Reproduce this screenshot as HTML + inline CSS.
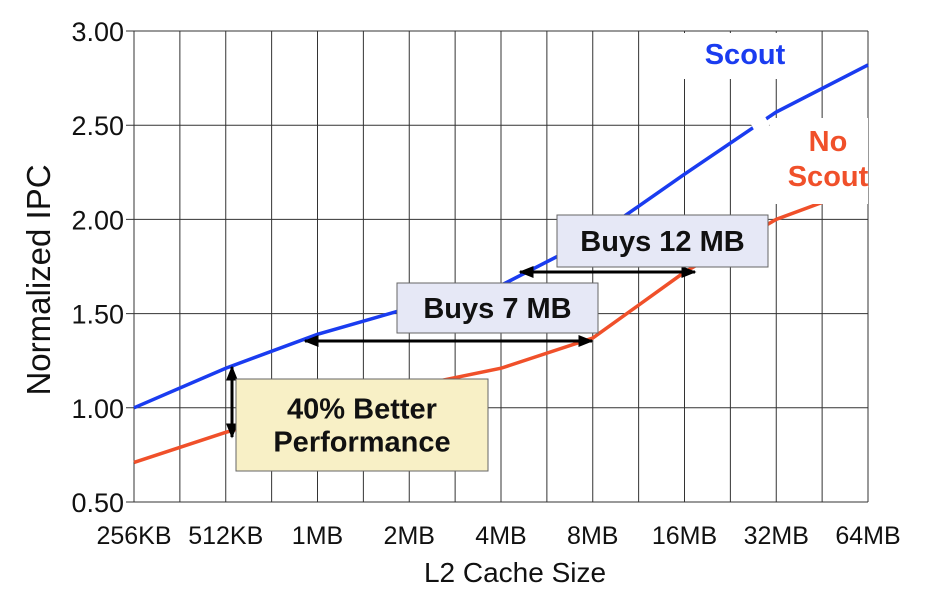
<!DOCTYPE html>
<html><head><meta charset="utf-8"><style>
body{margin:0;background:#fff;}
svg text{font-family:"Liberation Sans",sans-serif;}
</style></head><body>
<svg id="chart" width="944" height="595" xmlns="http://www.w3.org/2000/svg">
<defs>
<marker id="ah" viewBox="0 0 10 10" refX="9" refY="5" markerWidth="5" markerHeight="5" orient="auto-start-reverse"><path d="M0,1 L10,5 L0,9 z" fill="#000"/></marker>
</defs>
<g id="grid"></g>
<g id="series"></g>
<g id="axes"></g>
<g id="annot"></g>
</svg>
<script>
const categories=["256KB","512KB","1MB","2MB","4MB","8MB","16MB","32MB","64MB"];
const scoutValues=[1.00,1.21,1.39,1.53,1.65,1.90,2.24,2.57,2.82];
const noScoutValues=[0.71,0.87,1.00,1.11,1.21,1.37,1.72,2.00,2.18];
const yTicks=[0.5,1.0,1.5,2.0,2.5,3.0];
const yTickLabels=["0.50","1.00","1.50","2.00","2.50","3.00"];
const X0=134,X1=868,Y0=502,Y1=31;
const NS="http://www.w3.org/2000/svg";
function xs(i){return X0+i*(X1-X0)/(categories.length-1);}
function ys(v){return Y0-(v-0.5)/(3.0-0.5)*(Y0-Y1);}
function mk(tag,attrs,parent,txt){const e=document.createElementNS(NS,tag);for(const k in attrs)e.setAttribute(k,attrs[k]);if(txt!==undefined)e.textContent=txt;parent.appendChild(e);return e;}
const grid=document.getElementById('grid'),ser=document.getElementById('series'),ax=document.getElementById('axes'),an=document.getElementById('annot');
for(let k=0;k<=(categories.length-1)*2;k++){
  const x=X0+k*(X1-X0)/((categories.length-1)*2);
  const l=mk('line',{x1:x,x2:x,y1:Y1,y2:Y0,stroke:'#333','stroke-width':1},grid);
  
  
}
yTicks.forEach((v,i)=>{
  const l=mk('line',{x1:X0-8,x2:X1,y1:ys(v),y2:ys(v),stroke:'#333','stroke-width':1},grid);
  
  
  const t=mk('text',{x:124,y:ys(v)+10,'text-anchor':'end','font-size':27,fill:'#111'},ax,yTickLabels[i]);
  
  
});
categories.forEach((c,i)=>{
  const t=mk('text',{x:xs(i),y:544,'text-anchor':'middle','font-size':25,fill:'#111'},ax,c);
  
  
});
const xt=mk('text',{x:515,y:582,'text-anchor':'middle','font-size':28,fill:'#111'},ax,'L2 Cache Size');


const yt=mk('text',{x:0,y:0,'text-anchor':'middle','font-size':33,fill:'#111',transform:'translate(50,280) rotate(-90)'},ax,'Normalized IPC');


function line(vals,color,name){
  const p=mk('polyline',{points:vals.map((v,i)=>xs(i)+','+ys(v)).join(' '),fill:'none',stroke:color,'stroke-width':3.5},ser);
  
  
}
line(noScoutValues,'#f0502a','no-scout-line');
line(scoutValues,'#1a3cf0','scout-line');
mk('rect',{x:680,y:33,width:120,height:46,fill:'#fff'},an);
mk('rect',{x:770,y:118,width:98,height:86,fill:'#fff'},an);
mk('rect',{x:752,y:118,width:16,height:12,fill:'#fff',transform:'rotate(-30 760 124)'},an);
const s1=mk('text',{x:745,y:64,'text-anchor':'middle','font-size':29,'font-weight':'bold',fill:'#1a3cf0'},an,'Scout');


const s2=mk('text',{x:828,y:151,'text-anchor':'middle','font-size':29,'font-weight':'bold',fill:'#f0502a'},an,'No');


mk('text',{x:828,y:186,'text-anchor':'middle','font-size':29,'font-weight':'bold',fill:'#f0502a'},an,'Scout');
function box(x,y,w,h,fill,lines,name,fs){
  const g=mk('g',{},an);
  
  
  mk('rect',{x:x,y:y,width:w,height:h,fill:fill,stroke:'#666','stroke-width':1},g);
  lines.forEach((t,i)=>mk('text',{x:x+w/2,y:y+h/2+10+(i-(lines.length-1)/2)*33,'text-anchor':'middle','font-size':fs,'font-weight':'bold',fill:'#111'},g,t));
}
function arrow(x1,y1,x2,y2,name){
  const a=mk('line',{x1:x1,y1:y1,x2:x2,y2:y2,stroke:'#000','stroke-width':3,'marker-start':'url(#ah)','marker-end':'url(#ah)'},an);
  
  
}
arrow(520,272,695,272,'buys-12mb-arrow');
arrow(305,341,592,341,'buys-7mb-arrow');
arrow(232,367,232,437,'performance-arrow');
box(557,215,211,52,'#e6e8f6',['Buys 12 MB'],'buys-12mb-box',29);
box(397,283,201,50,'#e6e8f6',['Buys 7 MB'],'buys-7mb-box',29);
box(236,379,252,92,'#f8f0c6',['40% Better','Performance'],'performance-box',29);
</script>
</body></html>
